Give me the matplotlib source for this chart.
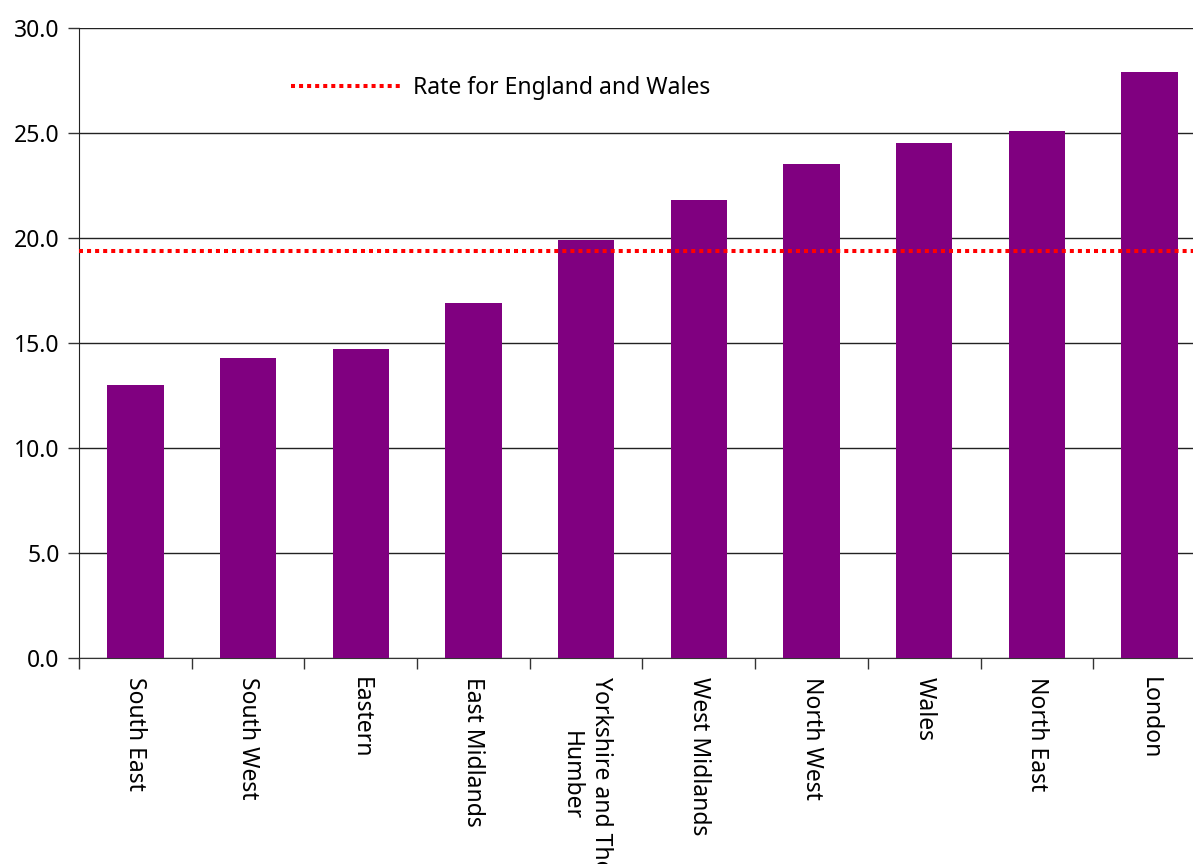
import numpy as np
import matplotlib
matplotlib.use('Agg')
import matplotlib.pyplot as plt

# Data
regions = ['South East', 'South West', 'Eastern', 'East Midlands',
           'Yorkshire and The\nHumber', 'West Midlands', 'North West',
           'Wales', 'North East', 'London']
rates = [13.0, 14.3, 14.7, 16.9, 19.9, 21.8, 23.5, 24.5, 25.1, 27.9]
england_wales = 19.4
yticks = [0.0, 5.0, 10.0, 15.0, 20.0, 25.0, 30.0]

plt.rcParams['font.family'] = ['Noto Sans', 'DejaVu Sans']

fig = plt.figure(figsize=(11.93, 8.64), dpi=100)
ax = fig.add_axes([0.0662, 0.2384, 1.0109 - 0.0662, 0.9676 - 0.2384])

x = np.arange(len(regions))
ax.bar(x, rates, width=0.5, color='#800080', zorder=3)
ax.plot([-0.5, len(regions) - 0.5], [england_wales, england_wales],
        color='#ff0000', linewidth=2.9, dashes=(1, 1),
        dash_capstyle='butt', zorder=4, label='Rate for England and Wales')

ax.set_xlim(-0.5, len(regions) - 0.5)
ax.set_ylim(0, 30)
ax.set_yticks(yticks)
ax.set_yticklabels(['%.1f' % v for v in yticks])
ax.yaxis.grid(True, color='#222222', linewidth=1.0, zorder=0)

# category labels at bar centres, tick marks between bars
ax.set_xticks(x)
ax.set_xticklabels(regions, rotation=270, ha='center', va='top',
                   fontsize=16.5, linespacing=1.35)
ax.tick_params(axis='x', which='major', length=0, pad=14)
ax.set_xticks(np.arange(len(regions) + 1) - 0.5, minor=True)
ax.tick_params(axis='x', which='minor', length=8, width=1.0,
               color='#333333')
ax.tick_params(axis='y', length=8, width=1.0, labelsize=16.5, pad=6,
               color='#333333')

for s in ['top', 'right']:
    ax.spines[s].set_visible(False)
ax.spines['left'].set_color('#222222')
ax.spines['bottom'].set_color('#333333')

ax.legend(loc='center left', bbox_to_anchor=(0.2442, 0.8985),
          bbox_transform=fig.transFigure, frameon=False, fontsize=16.5,
          handlelength=4.8, handletextpad=0.5, borderaxespad=0,
          borderpad=0)

plt.savefig('out.png', dpi=100)
